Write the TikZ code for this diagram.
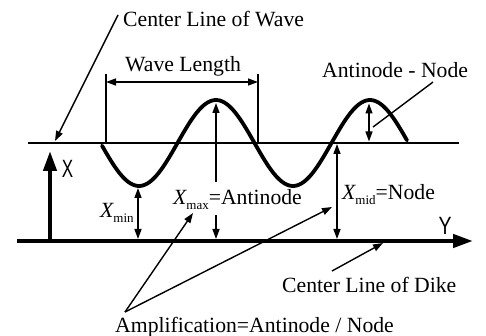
\documentclass[tikz,border=0pt]{standalone}
\usepackage{fontspec}
\setmainfont{Liberation Serif}
\newfontfamily\axfont{Liberation Sans}
\usetikzlibrary{arrows.meta}
\newcommand{\subtxt}[1]{\raisebox{-5pt}{\fontsize{13}{13}\selectfont #1}}
\begin{document}
\begin{tikzpicture}[x=1pt,y=-1pt,
  txt/.style={inner sep=0pt,anchor=base west,font=\fontsize{21.7}{24}\selectfont},
  axlbl/.style={inner sep=0pt,font=\axfont\fontsize{25}{25}\selectfont},
  thinln/.style={line width=1.4pt},
  arr/.style={thinln,-{Triangle[length=10pt,width=7pt]}},
  darr/.style={thinln,{Triangle[length=10pt,width=7pt]}-{Triangle[length=10pt,width=7pt]}},
  thickarr/.style={line width=4.2pt,-{Triangle[length=20pt,width=13pt]}},
]
\useasboundingbox (0,0) rectangle (486,336);

% center line of wave
\coordinate (cwL) at (28,143);
\coordinate (cwR) at (459,143);
\draw[thinln] (cwL) -- (cwR);

% dike line and axes
\coordinate (dL) at (17,241);
\coordinate (dR) at (473,241);
\draw[thickarr] (dL) -- (dR);
\coordinate (xb) at (50,241);
\coordinate (xt) at (50,151);
\draw[thickarr] (xb) -- (xt);
\node[axlbl] (xl) at (67.5,169) {\scalebox{0.68}[1]{X}};
\node[axlbl] (yl) at (445,226) {\scalebox{0.78}[1]{Y}};

% wave
\draw[line width=3.8pt,line cap=round,line join=round]
  plot[domain=102:407,samples=120,smooth] (\x,{143+43*sin(2.33766*(\x-100.5))});

% wave length
\coordinate (wl1b) at (106,143);
\coordinate (wl1t) at (106,74);
\coordinate (wl2b) at (258,143);
\coordinate (wl2t) at (258,74);
\draw[thinln] (wl1b) -- (wl1t);
\draw[thinln] (wl2b) -- (wl2t);
\coordinate (wla) at (106,82);
\coordinate (wlb) at (258,82);
\draw[darr] (wla) -- (wlb);
\node[txt] (wltxt) at (125,72) {Wave Length};

% center line of wave label
\node[txt] (cwtxt) at (123,27) {Center Line of Wave};
\coordinate (cws) at (118,15);
\coordinate (cwe) at (55,141);
\draw[arr] (cws) -- (cwe);

% antinode - node
\node[txt] (antxt) at (322,78) {Antinode - Node};
\coordinate (ant) at (369,103.5);
\coordinate (anb) at (369,141.5);
\draw[darr] (ant) -- (anb);
\coordinate (anls) at (433,82);
\coordinate (anle) at (373,127);
\draw[thinln] (anls) -- (anle);

% X min
\coordinate (mint) at (138,188);
\coordinate (minb) at (138,239);
\draw[darr] (mint) -- (minb);
\node[txt] (mintxt) at (100,218) {\itshape X\upshape\subtxt{min}};

% X max
\coordinate (maxt) at (216,103);
\coordinate (maxm1) at (216,182);
\coordinate (maxm2) at (216,215);
\coordinate (maxb) at (216,239);
\draw[arr] (maxm1) -- (maxt);
\draw[arr] (maxm2) -- (maxb);
\node[txt] (maxtxt) at (173,205) {\itshape X\upshape\subtxt{max}=Antinode};

% X mid
\coordinate (midt) at (337,144);
\coordinate (midb) at (337,239);
\draw[darr] (midt) -- (midb);
\node[txt] (midtxt) at (342,200) {\itshape X\upshape\subtxt{mid}=Node};

% amplification
\node[txt] (amptxt) at (115,332) {Amplification=Antinode / Node};
\coordinate (amps) at (125,312);
\coordinate (ampe1) at (193,213);
\coordinate (ampe2) at (332,207);
\draw[arr] (amps) -- (ampe1);
\draw[arr] (amps) -- (ampe2);

% center line of dike
\node[txt] (cdtxt) at (282,292) {Center Line of Dike};
\coordinate (cds) at (332,271);
\coordinate (cde) at (383,243);
\draw[arr] (cds) -- (cde);
\end{tikzpicture}
\end{document}
